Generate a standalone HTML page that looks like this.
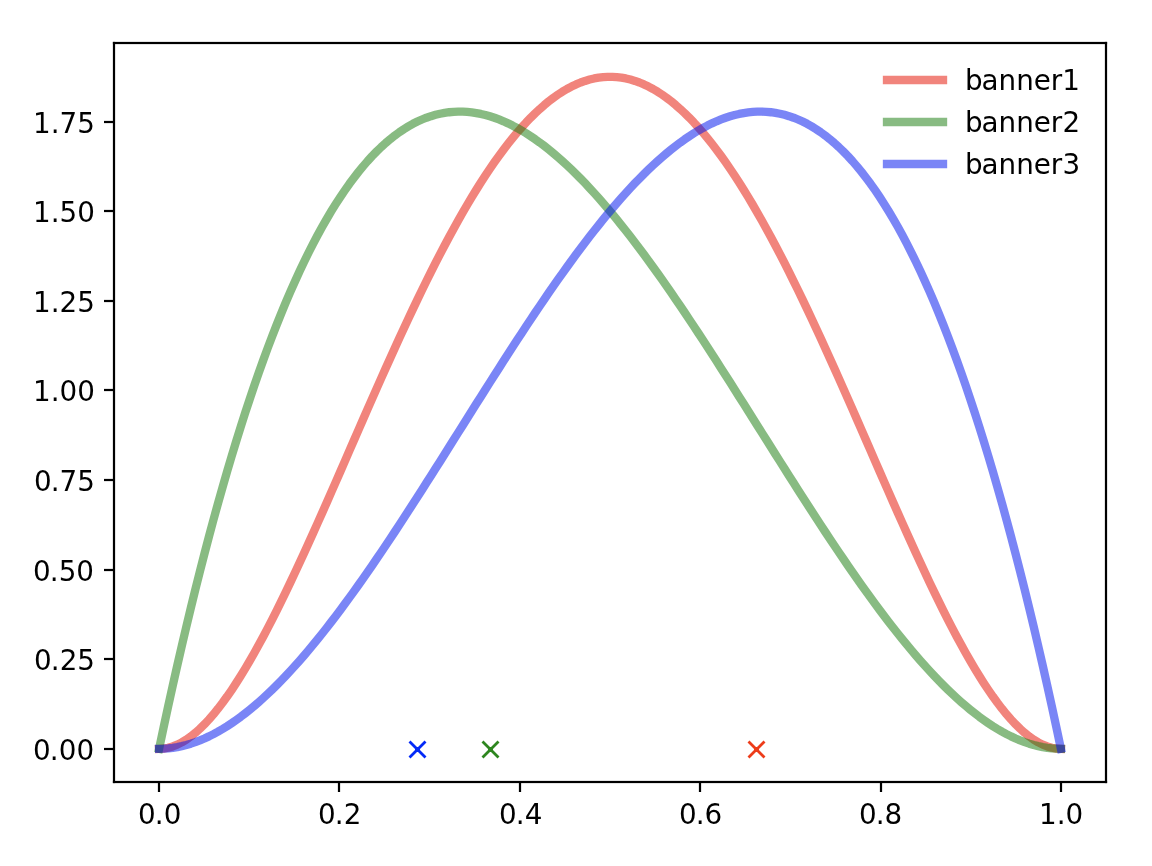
<!DOCTYPE html>
<html lang="en"><head><meta charset="utf-8"><title>banner posteriors</title>
<style>
html,body{margin:0;padding:0;background:#fff}
body{width:1152px;height:866px;overflow:hidden}
svg{display:block}
svg text{font-family:"DejaVu Sans","Liberation Sans",sans-serif;font-size:27.78px;fill:#000}
</style></head>
<body>
<svg width="1152" height="866" viewBox="0 0 1152 866">
<rect width="1152" height="866" fill="#fff"/>
<g fill="#000">
<rect x="157.889" y="782" width="2.222" height="10"/>
<rect x="337.889" y="782" width="2.222" height="10"/>
<rect x="518.889" y="782" width="2.222" height="10"/>
<rect x="698.889" y="782" width="2.222" height="10"/>
<rect x="879.889" y="782" width="2.222" height="10"/>
<rect x="1059.889" y="782" width="2.222" height="10"/>
<rect x="104" y="747.889" width="10" height="2.222"/>
<rect x="104" y="657.889" width="10" height="2.222"/>
<rect x="104" y="568.889" width="10" height="2.222"/>
<rect x="104" y="478.889" width="10" height="2.222"/>
<rect x="104" y="388.889" width="10" height="2.222"/>
<rect x="104" y="299.889" width="10" height="2.222"/>
<rect x="104" y="209.889" width="10" height="2.222"/>
<rect x="104" y="120.889" width="10" height="2.222"/>
</g>
<g>
<text x="138.05 154.72 163.69" y="824.01">0.0</text>
<text x="317.93 334.8 343.75" y="824.03">0.2</text>
<text x="499.03 515.7 524.64" y="824.01">0.4</text>
<text x="678.89 695.81 704.39" y="824.09">0.6</text>
<text x="859.02 875.69 884.56" y="823.93">0.8</text>
<text x="1039.03 1056.66 1065.38" y="824">1.0</text>
<text x="33 49.68 58.64 76.54" y="760.4">0.00</text>
<text x="34 50.68 59.85 77.21" y="669.84">0.25</text>
<text x="33 49.68 58.66 76.16" y="581.23">0.50</text>
<text x="34 50.68 59.61 77.21" y="490.71">0.75</text>
<text x="32.91 50.8 59.52 77.16" y="401">1.00</text>
<text x="32.91 50.8 59.47 77.34" y="312.45">1.25</text>
<text x="32.91 50.8 59.53 77.29" y="221.83">1.50</text>
<text x="32.91 50.8 59.49 77.34" y="133.32">1.75</text>
</g>
<g fill="none" stroke-width="8.33" stroke-opacity="0.52" stroke-linecap="square" stroke-linejoin="round">
<path stroke="#e41403" d="M159.09 748.8 L163.62 748.53 L168.15 747.74 L172.69 746.43 L177.22 744.63 L181.75 742.35 L186.28 739.61 L190.81 736.42 L195.34 732.79 L199.88 728.75 L204.41 724.31 L208.94 719.48 L213.47 714.28 L218 708.71 L222.54 702.81 L227.07 696.57 L231.6 690.02 L236.13 683.17 L240.66 676.03 L245.19 668.61 L249.73 660.93 L254.26 653 L258.79 644.84 L263.32 636.45 L267.85 627.86 L272.38 619.07 L276.92 610.09 L281.45 600.94 L285.98 591.62 L290.51 582.16 L295.04 572.56 L299.58 562.84 L304.11 553 L308.64 543.06 L313.17 533.02 L317.7 522.91 L322.23 512.72 L326.77 502.47 L331.3 492.18 L335.83 481.84 L340.36 471.47 L344.89 461.09 L349.42 450.69 L353.96 440.29 L358.49 429.91 L363.02 419.54 L367.55 409.19 L372.08 398.89 L376.61 388.63 L381.15 378.42 L385.68 368.27 L390.21 358.19 L394.74 348.19 L399.27 338.28 L403.81 328.46 L408.34 318.74 L412.87 309.13 L417.4 299.64 L421.93 290.27 L426.46 281.02 L431 271.92 L435.53 262.96 L440.06 254.15 L444.59 245.49 L449.12 237 L453.65 228.67 L458.19 220.52 L462.72 212.54 L467.25 204.75 L471.78 197.15 L476.31 189.75 L480.85 182.54 L485.38 175.54 L489.91 168.75 L494.44 162.18 L498.97 155.82 L503.5 149.68 L508.04 143.77 L512.57 138.09 L517.1 132.64 L521.63 127.43 L526.16 122.46 L530.69 117.73 L535.23 113.25 L539.76 109.02 L544.29 105.04 L548.82 101.31 L553.35 97.84 L557.88 94.63 L562.42 91.68 L566.95 89 L571.48 86.57 L576.01 84.41 L580.54 82.52 L585.08 80.9 L589.61 79.55 L594.14 78.46 L598.67 77.65 L603.2 77.11 L607.73 76.83 L612.27 76.83 L616.8 77.11 L621.33 77.65 L625.86 78.46 L630.39 79.55 L634.92 80.9 L639.46 82.52 L643.99 84.41 L648.52 86.57 L653.05 89 L657.58 91.68 L662.12 94.63 L666.65 97.84 L671.18 101.31 L675.71 105.04 L680.24 109.02 L684.77 113.25 L689.31 117.73 L693.84 122.46 L698.37 127.43 L702.9 132.64 L707.43 138.09 L711.96 143.77 L716.5 149.68 L721.03 155.82 L725.56 162.18 L730.09 168.75 L734.62 175.54 L739.15 182.54 L743.69 189.75 L748.22 197.15 L752.75 204.75 L757.28 212.54 L761.81 220.52 L766.35 228.67 L770.88 237 L775.41 245.49 L779.94 254.15 L784.47 262.96 L789 271.92 L793.54 281.02 L798.07 290.27 L802.6 299.64 L807.13 309.13 L811.66 318.74 L816.19 328.46 L820.73 338.28 L825.26 348.19 L829.79 358.19 L834.32 368.27 L838.85 378.42 L843.39 388.63 L847.92 398.89 L852.45 409.19 L856.98 419.54 L861.51 429.91 L866.04 440.29 L870.58 450.69 L875.11 461.09 L879.64 471.47 L884.17 481.84 L888.7 492.18 L893.23 502.47 L897.77 512.72 L902.3 522.91 L906.83 533.02 L911.36 543.06 L915.89 553 L920.42 562.84 L924.96 572.56 L929.49 582.16 L934.02 591.62 L938.55 600.94 L943.08 610.09 L947.62 619.07 L952.15 627.86 L956.68 636.45 L961.21 644.84 L965.74 653 L970.27 660.93 L974.81 668.61 L979.34 676.03 L983.87 683.17 L988.4 690.02 L992.93 696.57 L997.46 702.81 L1002 708.71 L1006.53 714.28 L1011.06 719.48 L1015.59 724.31 L1020.12 728.75 L1024.66 732.79 L1029.19 736.42 L1033.72 739.61 L1038.25 742.35 L1042.78 744.63 L1047.31 746.43 L1051.85 747.74 L1056.38 748.53 L1060.91 748.8"/>
<path stroke="#1a7c0f" d="M159.09 748.8 L163.62 727.4 L168.15 706.44 L172.69 685.9 L177.22 665.79 L181.75 646.1 L186.28 626.83 L190.81 607.97 L195.34 589.53 L199.88 571.49 L204.41 553.85 L208.94 536.62 L213.47 519.79 L218 503.35 L222.54 487.31 L227.07 471.65 L231.6 456.38 L236.13 441.49 L240.66 426.98 L245.19 412.84 L249.73 399.08 L254.26 385.68 L258.79 372.65 L263.32 359.98 L267.85 347.68 L272.38 335.73 L276.92 324.13 L281.45 312.88 L285.98 301.97 L290.51 291.41 L295.04 281.19 L299.58 271.3 L304.11 261.75 L308.64 252.53 L313.17 243.63 L317.7 235.06 L322.23 226.8 L326.77 218.87 L331.3 211.24 L335.83 203.93 L340.36 196.92 L344.89 190.22 L349.42 183.81 L353.96 177.71 L358.49 171.89 L363.02 166.37 L367.55 161.13 L372.08 156.18 L376.61 151.51 L381.15 147.12 L385.68 143 L390.21 139.15 L394.74 135.56 L399.27 132.25 L403.81 129.19 L408.34 126.39 L412.87 123.84 L417.4 121.55 L421.93 119.5 L426.46 117.7 L431 116.14 L435.53 114.82 L440.06 113.73 L444.59 112.87 L449.12 112.24 L453.65 111.84 L458.19 111.66 L462.72 111.69 L467.25 111.94 L471.78 112.41 L476.31 113.08 L480.85 113.95 L485.38 115.03 L489.91 116.31 L494.44 117.78 L498.97 119.45 L503.5 121.3 L508.04 123.34 L512.57 125.56 L517.1 127.96 L521.63 130.54 L526.16 133.28 L530.69 136.2 L535.23 139.29 L539.76 142.53 L544.29 145.94 L548.82 149.5 L553.35 153.21 L557.88 157.08 L562.42 161.09 L566.95 165.24 L571.48 169.53 L576.01 173.96 L580.54 178.52 L585.08 183.22 L589.61 188.04 L594.14 192.98 L598.67 198.04 L603.2 203.22 L607.73 208.51 L612.27 213.92 L616.8 219.42 L621.33 225.04 L625.86 230.75 L630.39 236.56 L634.92 242.47 L639.46 248.46 L643.99 254.55 L648.52 260.71 L653.05 266.96 L657.58 273.29 L662.12 279.69 L666.65 286.16 L671.18 292.69 L675.71 299.3 L680.24 305.96 L684.77 312.68 L689.31 319.46 L693.84 326.29 L698.37 333.16 L702.9 340.08 L707.43 347.04 L711.96 354.04 L716.5 361.08 L721.03 368.14 L725.56 375.24 L730.09 382.36 L734.62 389.5 L739.15 396.66 L743.69 403.83 L748.22 411.02 L752.75 418.22 L757.28 425.42 L761.81 432.62 L766.35 439.83 L770.88 447.02 L775.41 454.22 L779.94 461.4 L784.47 468.56 L789 475.71 L793.54 482.84 L798.07 489.94 L802.6 497.02 L807.13 504.06 L811.66 511.07 L816.19 518.05 L820.73 524.98 L825.26 531.87 L829.79 538.72 L834.32 545.51 L838.85 552.25 L843.39 558.93 L847.92 565.56 L852.45 572.12 L856.98 578.61 L861.51 585.03 L866.04 591.38 L870.58 597.66 L875.11 603.85 L879.64 609.96 L884.17 615.99 L888.7 621.92 L893.23 627.77 L897.77 633.51 L902.3 639.16 L906.83 644.7 L911.36 650.14 L915.89 655.47 L920.42 660.69 L924.96 665.79 L929.49 670.77 L934.02 675.64 L938.55 680.37 L943.08 684.98 L947.62 689.45 L952.15 693.79 L956.68 697.99 L961.21 702.05 L965.74 705.96 L970.27 709.72 L974.81 713.34 L979.34 716.8 L983.87 720.09 L988.4 723.23 L992.93 726.21 L997.46 729.01 L1002 731.65 L1006.53 734.1 L1011.06 736.39 L1015.59 738.49 L1020.12 740.4 L1024.66 742.13 L1029.19 743.67 L1033.72 745.01 L1038.25 746.15 L1042.78 747.1 L1047.31 747.84 L1051.85 748.37 L1056.38 748.69 L1060.91 748.8"/>
<path stroke="#0016ee" d="M159.09 748.8 L163.62 748.69 L168.15 748.37 L172.69 747.84 L177.22 747.1 L181.75 746.15 L186.28 745.01 L190.81 743.67 L195.34 742.13 L199.88 740.4 L204.41 738.49 L208.94 736.39 L213.47 734.1 L218 731.65 L222.54 729.01 L227.07 726.21 L231.6 723.23 L236.13 720.09 L240.66 716.8 L245.19 713.34 L249.73 709.72 L254.26 705.96 L258.79 702.05 L263.32 697.99 L267.85 693.79 L272.38 689.45 L276.92 684.98 L281.45 680.37 L285.98 675.64 L290.51 670.77 L295.04 665.79 L299.58 660.69 L304.11 655.47 L308.64 650.14 L313.17 644.7 L317.7 639.16 L322.23 633.51 L326.77 627.77 L331.3 621.92 L335.83 615.99 L340.36 609.96 L344.89 603.85 L349.42 597.66 L353.96 591.38 L358.49 585.03 L363.02 578.61 L367.55 572.12 L372.08 565.56 L376.61 558.93 L381.15 552.25 L385.68 545.51 L390.21 538.72 L394.74 531.87 L399.27 524.98 L403.81 518.05 L408.34 511.07 L412.87 504.06 L417.4 497.02 L421.93 489.94 L426.46 482.84 L431 475.71 L435.53 468.56 L440.06 461.4 L444.59 454.22 L449.12 447.02 L453.65 439.83 L458.19 432.62 L462.72 425.42 L467.25 418.22 L471.78 411.02 L476.31 403.83 L480.85 396.66 L485.38 389.5 L489.91 382.36 L494.44 375.24 L498.97 368.14 L503.5 361.08 L508.04 354.04 L512.57 347.04 L517.1 340.08 L521.63 333.16 L526.16 326.29 L530.69 319.46 L535.23 312.68 L539.76 305.96 L544.29 299.3 L548.82 292.69 L553.35 286.16 L557.88 279.69 L562.42 273.29 L566.95 266.96 L571.48 260.71 L576.01 254.55 L580.54 248.46 L585.08 242.47 L589.61 236.56 L594.14 230.75 L598.67 225.04 L603.2 219.42 L607.73 213.92 L612.27 208.51 L616.8 203.22 L621.33 198.04 L625.86 192.98 L630.39 188.04 L634.92 183.22 L639.46 178.52 L643.99 173.96 L648.52 169.53 L653.05 165.24 L657.58 161.09 L662.12 157.08 L666.65 153.21 L671.18 149.5 L675.71 145.94 L680.24 142.53 L684.77 139.29 L689.31 136.2 L693.84 133.28 L698.37 130.54 L702.9 127.96 L707.43 125.56 L711.96 123.34 L716.5 121.3 L721.03 119.45 L725.56 117.78 L730.09 116.31 L734.62 115.03 L739.15 113.95 L743.69 113.08 L748.22 112.41 L752.75 111.94 L757.28 111.69 L761.81 111.66 L766.35 111.84 L770.88 112.24 L775.41 112.87 L779.94 113.73 L784.47 114.82 L789 116.14 L793.54 117.7 L798.07 119.5 L802.6 121.55 L807.13 123.84 L811.66 126.39 L816.19 129.19 L820.73 132.25 L825.26 135.56 L829.79 139.15 L834.32 143 L838.85 147.12 L843.39 151.51 L847.92 156.18 L852.45 161.13 L856.98 166.37 L861.51 171.89 L866.04 177.71 L870.58 183.81 L875.11 190.22 L879.64 196.92 L884.17 203.93 L888.7 211.24 L893.23 218.87 L897.77 226.8 L902.3 235.06 L906.83 243.63 L911.36 252.53 L915.89 261.75 L920.42 271.3 L924.96 281.19 L929.49 291.41 L934.02 301.97 L938.55 312.88 L943.08 324.13 L947.62 335.73 L952.15 347.68 L956.68 359.98 L961.21 372.65 L965.74 385.68 L970.27 399.08 L974.81 412.84 L979.34 426.98 L983.87 441.49 L988.4 456.38 L992.93 471.65 L997.46 487.31 L1002 503.35 L1006.53 519.79 L1011.06 536.62 L1015.59 553.85 L1020.12 571.49 L1024.66 589.53 L1029.19 607.97 L1033.72 626.83 L1038.25 646.1 L1042.78 665.79 L1047.31 685.9 L1051.85 706.44 L1056.38 727.4 L1060.91 748.8"/>
</g>
<g fill="none" stroke-width="2.78">
<path stroke="#ed3c1a" d="M748.5 757.5 l16 -16 M748.5 741.5 l16 16"/>
<rect x="754.07" y="747.07" width="4.86" height="4.86" fill="#ed3c1a"/>
<path stroke="#2e861f" d="M482.5 757.5 l16 -16 M482.5 741.5 l16 16"/>
<rect x="488.07" y="747.07" width="4.86" height="4.86" fill="#2e861f"/>
<path stroke="#042af7" d="M409.5 757.5 l16 -16 M409.5 741.5 l16 16"/>
<rect x="415.07" y="747.07" width="4.86" height="4.86" fill="#042af7"/>
</g>
<g fill="#000">
<rect x="112.889" y="41.889" width="2.222" height="741.222"/>
<rect x="1104.889" y="41.889" width="2.222" height="741.222"/>
<rect x="112.889" y="780.889" width="994.222" height="2.222"/>
<rect x="112.889" y="41.889" width="994.222" height="2.222"/>
</g>
<g fill="none" stroke-width="8.33" stroke-opacity="0.52" stroke-linecap="square">
<path stroke="#e41403" d="M887 80 H943"/>
<path stroke="#1a7c0f" d="M887 122 H943"/>
<path stroke="#0016ee" d="M887 164 H943"/>
</g>
<g>
<text x="964.95 981.38 998.45 1016.2 1033.81 1050.64 1062.32" y="90.19">banner1</text>
<text x="964.95 981.38 998.45 1016.2 1033.81 1050.64 1062.4" y="132.1">banner2</text>
<text x="964.95 981.38 998.45 1016.2 1033.81 1050.64 1062.58" y="173.98">banner3</text>
</g>
</svg>
</body></html>
